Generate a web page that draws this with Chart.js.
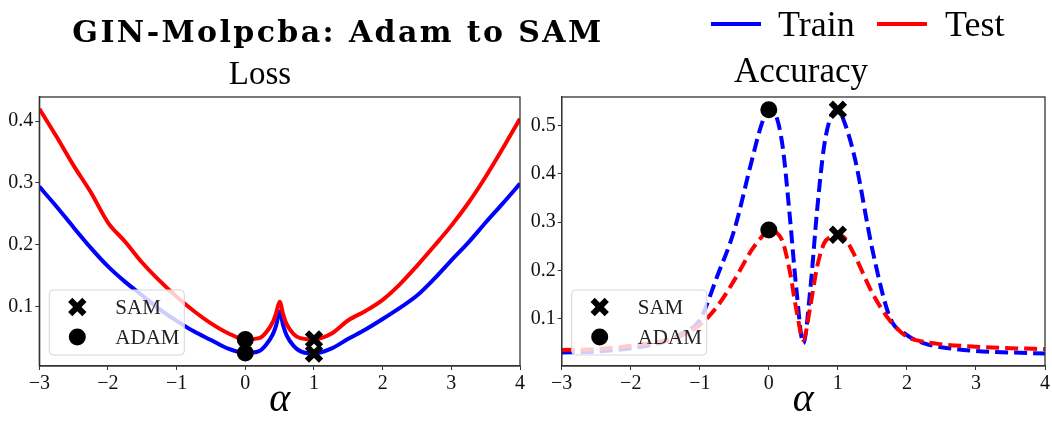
<!DOCTYPE html>
<html>
<head>
<meta charset="utf-8">
<script src="https://cdn.jsdelivr.net/npm/chart.js@4"></script>
<style>
  body { margin: 0; background: #fff; }
  #page { position: relative; width: 1052px; height: 424px; overflow: hidden;
          font-family: "Liberation Serif", serif; color: #000; }
  .panel { position: absolute; top: 0; width: 526px; height: 424px; }
  .txt { position: absolute; white-space: nowrap; line-height: 1; }
  .swatch { position: absolute; height: 4px; }
  #suptitle { left: 2px; width: 672px; text-align: center; top: 17px; letter-spacing: 2.4px;
              font-family: "DejaVu Serif", serif; font-weight: bold; font-size: 30px; }
  #lossTitle { left: 160px; width: 200px; text-align: center; top: 57px; font-size: 33px; }
  #accTitle { left: 701px; width: 200px; text-align: center; top: 53px; font-size: 35px; }
</style>
</head>
<body>
<div id="page">
  <div class="panel" style="left:0"><canvas id="lossChart" width="526" height="424"></canvas></div>
  <div class="panel" style="left:526px"><canvas id="accChart" width="526" height="424"></canvas></div>
  <div id="suptitle" class="txt">GIN-Molpcba: Adam to SAM</div>
  <div id="lossTitle" class="txt">Loss</div>
  <div id="accTitle" class="txt">Accuracy</div>
  <div class="swatch" style="left:711px;top:22px;width:50px;background:blue"></div>
  <div class="txt" style="left:778px;top:6px;font-size:36px">Train</div>
  <div class="swatch" style="left:877px;top:22px;width:50px;background:red"></div>
  <div class="txt" style="left:945px;top:6px;font-size:36px">Test</div>
</div>
<script>
// interpolation coefficient between the Adam (0) and SAM (1) solutions
const lossAlpha = [-3, -2.75, -2.5, -2.25, -2, -1.75, -1.5, -1.25, -1, -0.75, -0.5, -0.25,
  0, 0.2, 0.3, 0.4, 0.45, 0.5, 0.55, 0.6, 0.7, 0.8, 1,
  1.25, 1.5, 1.75, 2, 2.25, 2.5, 2.75, 3, 3.25, 3.5, 3.75, 4];
const lossTrain = [0.294, 0.262, 0.228, 0.195, 0.165, 0.140, 0.118, 0.096, 0.077, 0.060, 0.046, 0.032,
  0.025, 0.028, 0.038, 0.055, 0.070, 0.092, 0.070, 0.054, 0.037, 0.028, 0.024,
  0.032, 0.048, 0.063, 0.080, 0.098, 0.118, 0.145, 0.175, 0.204, 0.236, 0.267, 0.299];
const lossTest = [0.420, 0.375, 0.328, 0.285, 0.236, 0.205, 0.171, 0.142, 0.116, 0.093, 0.073, 0.057,
  0.047, 0.049, 0.058, 0.075, 0.090, 0.108, 0.088, 0.072, 0.056, 0.049, 0.047,
  0.056, 0.078, 0.093, 0.111, 0.136, 0.166, 0.198, 0.231, 0.268, 0.310, 0.356, 0.404];

const accAlpha = [-3, -2.5, -2, -1.5, -1.25, -1, -0.75, -0.5, -0.25, -0.1,
  0, 0.1, 0.2, 0.3, 0.4, 0.5, 0.6, 0.7, 0.8, 0.9,
  1, 1.1, 1.25, 1.5, 1.75, 2, 2.25, 2.5, 3, 3.5, 4];
const accTrain = [0.030, 0.032, 0.039, 0.053, 0.070, 0.097, 0.187, 0.284, 0.426, 0.505,
  0.533, 0.522, 0.457, 0.318, 0.160, 0.049, 0.160, 0.326, 0.457, 0.519,
  0.533, 0.505, 0.430, 0.243, 0.104, 0.066, 0.049, 0.041, 0.033, 0.030, 0.028];
const accTest = [0.035, 0.037, 0.044, 0.055, 0.066, 0.087, 0.125, 0.180, 0.242, 0.270,
  0.284, 0.280, 0.260, 0.201, 0.118, 0.056, 0.125, 0.208, 0.256, 0.270,
  0.274, 0.267, 0.229, 0.153, 0.097, 0.063, 0.052, 0.047, 0.042, 0.039, 0.037];

const adamAlpha = 0;
const samAlpha = 1;

const xTicks = [-3, -2, -1, 0, 1, 2, 3, 4];
const lossTicks = [0.1, 0.2, 0.3, 0.4];
const accTicks = [0.1, 0.2, 0.3, 0.4, 0.5];

Chart.defaults.font.family = "'Liberation Serif', serif";
Chart.defaults.font.size = 20;
Chart.defaults.color = "#111";

const samStyle = { pointStyle: "crossRot", radius: 10, borderWidth: 6 };
const adamStyle = { pointStyle: "circle", radius: 8.5, borderWidth: 0 };

// box around the plot area plus the SAM / ADAM marker key
const frameAndKey = {
  id: "frameAndKey",
  afterDraw(chart) {
    const c = chart.ctx;
    const a = chart.chartArea;
    c.save();
    c.strokeStyle = "#333";
    c.lineWidth = 1.3;
    c.strokeRect(a.left, a.top, a.right - a.left, a.bottom - a.top);

    const bx = a.left + 10, bw = 135, bh = 65, by = a.bottom - 11 - bh;
    c.beginPath();
    c.roundRect(bx, by, bw, bh, 4);
    c.fillStyle = "rgba(255,255,255,0.8)";
    c.fill();
    c.strokeStyle = "#d6d6d6";
    c.lineWidth = 1;
    c.stroke();

    const rows = [{ text: "SAM", style: samStyle }, { text: "ADAM", style: adamStyle }];
    c.font = "21px 'Liberation Serif', serif";
    c.textBaseline = "middle";
    rows.forEach((r, i) => {
      const ry = by + 17 + i * 30;
      c.fillStyle = "#000";
      c.strokeStyle = "#000";
      c.lineWidth = r.style.borderWidth;
      Chart.helpers.drawPoint(c, r.style, bx + 28, ry);
      c.fillStyle = "#222";
      c.fillText(r.text, bx + 66, ry + 1);
    });
    c.restore();
  },
};

function makePanel(id, alpha, train, test, yMin, yMax, yTicks, yWidth, padRight, dashed) {
  const pts = (ys) => alpha.map((x, i) => ({ x: x, y: ys[i] }));
  const at = (ys, a) => ys[alpha.indexOf(a)];
  const dash = dashed ? [13, 6] : [];
  return new Chart(document.getElementById(id).getContext("2d"), {
    type: "line",
    data: {
      datasets: [
        {
          label: "SAM",
          data: [{ x: samAlpha, y: at(train, samAlpha) }, { x: samAlpha, y: at(test, samAlpha) }],
          showLine: false,
          pointStyle: samStyle.pointStyle,
          pointRadius: samStyle.radius,
          pointBorderWidth: samStyle.borderWidth,
          pointBorderColor: "#000",
          pointBackgroundColor: "#000",
          order: 0,
        },
        {
          label: "ADAM",
          data: [{ x: adamAlpha, y: at(train, adamAlpha) }, { x: adamAlpha, y: at(test, adamAlpha) }],
          showLine: false,
          pointStyle: adamStyle.pointStyle,
          pointRadius: adamStyle.radius,
          pointBorderWidth: 0,
          pointBackgroundColor: "#000",
          order: 0,
        },
        {
          label: "Test",
          data: pts(test),
          borderColor: "red",
          borderWidth: 4,
          borderDash: dash,
          pointRadius: 0,
          cubicInterpolationMode: "monotone",
          order: 1,
        },
        {
          label: "Train",
          data: pts(train),
          borderColor: "blue",
          borderWidth: 4,
          borderDash: dash,
          pointRadius: 0,
          cubicInterpolationMode: "monotone",
          order: 2,
        },
      ],
    },
    options: {
      responsive: false,
      animation: false,
      events: [],
      layout: { autoPadding: false, padding: { top: 97, right: padRight, left: 0, bottom: 0 } },
      plugins: { legend: { display: false }, tooltip: { enabled: false } },
      scales: {
        x: {
          type: "linear",
          min: -3,
          max: 4,
          afterBuildTicks: (s) => { s.ticks = xTicks.map((v) => ({ value: v })); },
          afterFit: (s) => { s.height = 58; s.paddingLeft = 0; s.paddingRight = 0; },
          ticks: { padding: 2, callback: (v) => String(v).replace("-", "\u2212") },
          grid: { drawOnChartArea: false, tickLength: 4, color: "#333" },
          border: { color: "#333", width: 1.3 },
          title: {
            display: true,
            text: "\u03b1",
            color: "#000",
            padding: 0,
            font: { family: "'Liberation Serif', serif", style: "italic", size: 40, lineHeight: 1.2 },
          },
        },
        y: {
          min: yMin,
          max: yMax,
          afterBuildTicks: (s) => { s.ticks = yTicks.map((v) => ({ value: v })); },
          afterFit: (s) => { s.width = yWidth; s.paddingTop = 0; s.paddingBottom = 0; },
          ticks: { padding: 2, callback: (v) => String(v) },
          grid: { drawOnChartArea: false, tickLength: 4, color: "#333" },
          border: { color: "#333", width: 1.3 },
        },
      },
    },
    plugins: [frameAndKey],
  });
}

makePanel("lossChart", lossAlpha, lossTrain, lossTest, 0.004, 0.439, lossTicks, 39.3, 6, false);
makePanel("accChart", accAlpha, accTrain, accTest, 0.002, 0.5595, accTicks, 35.7, 7, true);
</script>
</body>
</html>
